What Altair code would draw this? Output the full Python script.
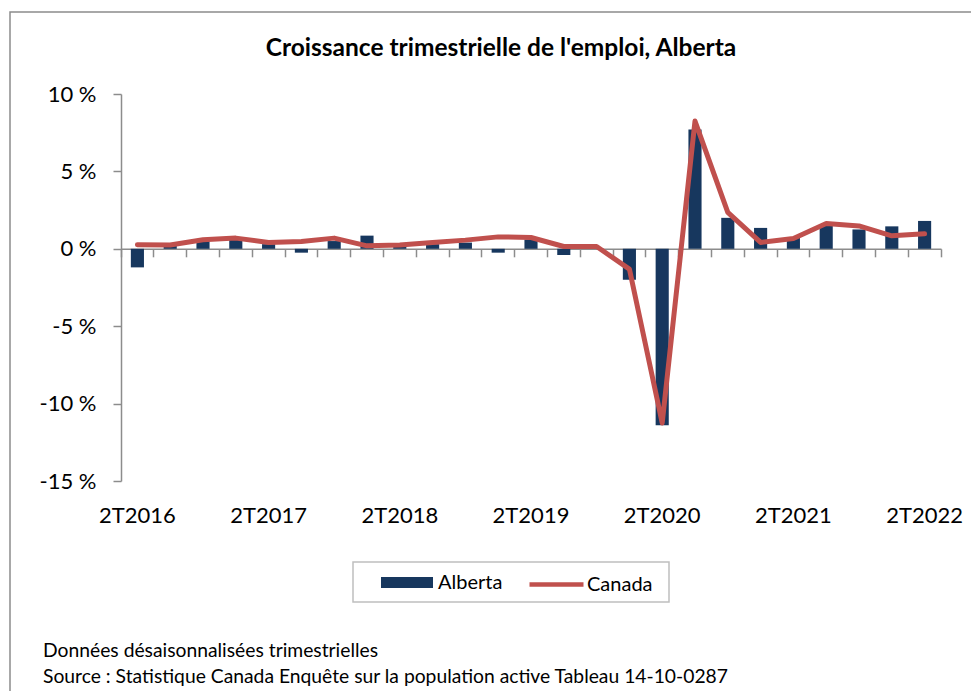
import altair as alt
import pandas as pd

quarters = ["2T2016", "3T2016", "4T2016", "1T2017", "2T2017", "3T2017", "4T2017",
            "1T2018", "2T2018", "3T2018", "4T2018", "1T2019", "2T2019", "3T2019",
            "4T2019", "1T2020", "2T2020", "3T2020", "4T2020", "1T2021", "2T2021",
            "3T2021", "4T2021", "1T2022", "2T2022"]
alberta = [-1.2, 0.2, 0.5, 0.6, 0.3, -0.25, 0.5, 0.85, 0.15, 0.3, 0.4, -0.25, 0.6,
           -0.4, 0.05, -2.0, -11.4, 7.7, 2.0, 1.35, 0.7, 1.6, 1.25, 1.45, 1.8]
canada = [0.26, 0.25, 0.58, 0.69, 0.41, 0.47, 0.69, 0.19, 0.24, 0.41, 0.56, 0.77,
          0.73, 0.15, 0.15, -1.31, -11.25, 8.25, 2.35, 0.41, 0.67, 1.63, 1.48, 0.84, 0.97]
y_ticks = [-15, -10, -5, 0, 5, 10]
title_text = "Croissance trimestrielle de l'emploi, Alberta"
footer_lines = ["Données désaisonnalisées trimestrielles",
                "Source : Statistique Canada Enquête sur la population active Tableau 14-10-0287"]

FONT = "Lato"
NAVY = "#17375E"
RED = "#C0504D"
AXIS_GRAY = "#8C8C8C"

W, H = 820, 387
zero_offset = -H * (0 - y_ticks[0]) / (y_ticks[-1] - y_ticks[0])

df_alb = pd.DataFrame({"quarter": quarters, "value": alberta, "series": "Alberta"})
df_can = pd.DataFrame({"quarter": quarters, "value": canada, "series": "Canada"})
one = pd.DataFrame({"k": [0]})

x_scale = alt.Scale(paddingInner=0, paddingOuter=0)
y_scale = alt.Scale(domain=[y_ticks[0], y_ticks[-1]], nice=False, zero=False)

bars = alt.Chart(df_alb).mark_bar(width=alt.RelativeBandSize(0.4)).encode(
    x=alt.X("quarter:N", sort=quarters, scale=x_scale,
            axis=alt.Axis(title=None, labels=False, domain=True, ticks=True,
                          tickSize=8, bandPosition=1, tickExtra=True,
                          offset=zero_offset, orient="bottom")),
    y=alt.Y("value:Q", scale=y_scale,
            axis=alt.Axis(values=y_ticks, labelExpr="datum.value + ' %'", tickSize=8,
                          labelPadding=17, title=None, grid=False)),
    fill=alt.Fill("series:N", scale=alt.Scale(domain=["Alberta"], range=[NAVY]),
                  legend=alt.Legend(title=None, orient="none", legendX=260, legendY=462.5,
                                    symbolType="M-1,-0.21H1V0.21H-1Z", symbolSize=2704,
                                    symbolStrokeWidth=0, labelOffset=5, padding=0,
                                    labelFont=FONT, labelFontSize=20, labelColor="black")),
)

line = alt.Chart(df_can).mark_line(strokeWidth=5, strokeCap="round", strokeJoin="round").encode(
    x=alt.X("quarter:N", sort=quarters, scale=x_scale,
            axis=alt.Axis(title=None, domain=False, ticks=False, labelAngle=0,
                          labelExpr="slice(datum.label, 0, 2) == '2T' ? datum.label : ''",
                          labelPadding=24, bandPosition=0.5, orient="bottom",
                          labelOverlap=False)),
    y=alt.Y("value:Q", scale=y_scale),
    stroke=alt.Stroke("series:N", scale=alt.Scale(domain=["Canada"], range=[RED]),
                      legend=alt.Legend(title=None, orient="none", legendX=406, legendY=461,
                                        symbolType="stroke", symbolSize=2916,
                                        symbolStrokeWidth=4.5, labelOffset=1, padding=0,
                                        labelFont=FONT, labelFontSize=20, labelColor="black")),
)

border = alt.Chart(one).mark_rect(filled=False, stroke=AXIS_GRAY, strokeWidth=1.5).encode(
    x=alt.value(-111), x2=alt.value(W + 200), y=alt.value(-82), y2=alt.value(H + 400)
)
legend_box = alt.Chart(one).mark_rect(filled=False, stroke="#BFBFBF", strokeWidth=1.5).encode(
    x=alt.value(232), x2=alt.value(548), y=alt.value(468), y2=alt.value(508)
)
title = alt.Chart(one).mark_text(align="center", baseline="middle", font=FONT, fontSize=24.5,
                                 fontWeight="bold", color="black", text=title_text).encode(
    x=alt.value(380), y=alt.value(-45))
foot1 = alt.Chart(one).mark_text(align="left", baseline="middle", font=FONT, fontSize=19.3,
                                 color="black", text=footer_lines[0]).encode(
    x=alt.value(-78), y=alt.value(557))
foot2 = alt.Chart(one).mark_text(align="left", baseline="middle", font=FONT, fontSize=19.3,
                                 color="black", text=footer_lines[1]).encode(
    x=alt.value(-78), y=alt.value(583))

chart = alt.layer(border, legend_box, title, bars, line, foot1, foot2).resolve_axis(
    x="independent"
).properties(
    width=W, height=H,
    autosize=alt.AutoSizeParams(type="none"),
    padding={"left": 113, "top": 86, "right": 30, "bottom": 210},
).configure_view(stroke=None).configure_axis(
    labelFont=FONT, labelFontSize=22, labelColor="black",
    domainColor=AXIS_GRAY, tickColor=AXIS_GRAY, domainWidth=1.5, tickWidth=1.5, grid=False
)

chart.save("out.html", embed_options={"renderer": "svg", "actions": False})
